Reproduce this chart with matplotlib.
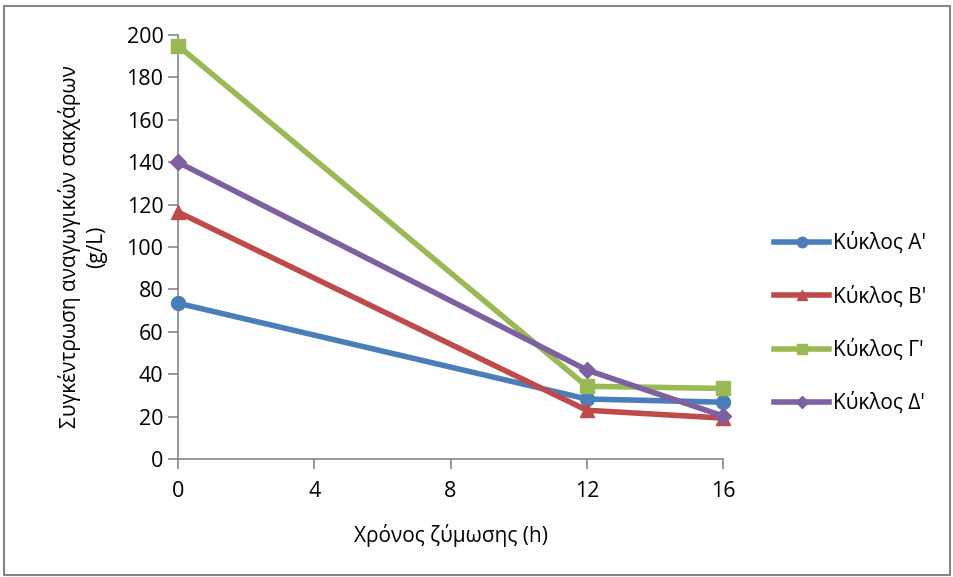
import matplotlib.pyplot as plt
from matplotlib.patches import Rectangle

plt.rcParams['font.family'] = ['Open Sans', 'DejaVu Sans']

# fermentation time (h) and reducing sugar concentration (g/L) per cycle
hours = [0, 12, 16]
cycle_a = [73.5, 28.3, 26.8]
cycle_b = [116.5, 23.0, 19.3]
cycle_g = [195.0, 34.3, 33.3]
cycle_d = [140.0, 42.0, 20.3]

series = [
    ("Κύκλος Α'", cycle_a, '#4a7ebb', 'o'),
    ("Κύκλος Β'", cycle_b, '#be4b48', '^'),
    ("Κύκλος Γ'", cycle_g, '#98b954', 's'),
    ("Κύκλος Δ'", cycle_d, '#7d60a0', 'D'),
]

fig = plt.figure(figsize=(9.54, 5.77), dpi=100)
ax = fig.add_axes([0.1866, 0.2045, 0.5713, 0.7348])

for name, vals, col, mk in series:
    ms = 10 if mk != 'D' else 8
    ax.plot(hours, vals, color=col, lw=4, marker=mk, markersize=ms,
            label=name, clip_on=False, zorder=3)

ax.set_xlim(0, 16)
ax.set_ylim(0, 200)
ax.set_xticks([0, 4, 8, 12, 16])
ax.set_yticks(range(0, 201, 20))
ax.tick_params(labelsize=15.5, colors='#868686', labelcolor='black',
               length=7, width=1.2)
ax.tick_params(axis='x', pad=9)
for s in ['top', 'right']:
    ax.spines[s].set_visible(False)
for s in ['left', 'bottom']:
    ax.spines[s].set_color('#868686')
    ax.spines[s].set_linewidth(1.2)

ax.set_xlabel('Χρόνος ζύμωσης (h)', fontsize=15, labelpad=16)
ax.set_ylabel('Συγκέντρωση αναγωγικών σακχάρων\n(g/L)', fontsize=15,
              labelpad=14, linespacing=1.3)

leg = ax.legend(loc='center left', bbox_to_anchor=(1.06, 0.32), frameon=False,
                fontsize=15, handlelength=2.6, labelspacing=1.5,
                handletextpad=0.2, markerscale=0.75)

fig.patches.append(Rectangle((0.004, 0.004), 0.992, 0.985, transform=fig.transFigure,
                             fill=False, edgecolor='#868686', lw=1.5))

fig.savefig('out.png', dpi=100)
